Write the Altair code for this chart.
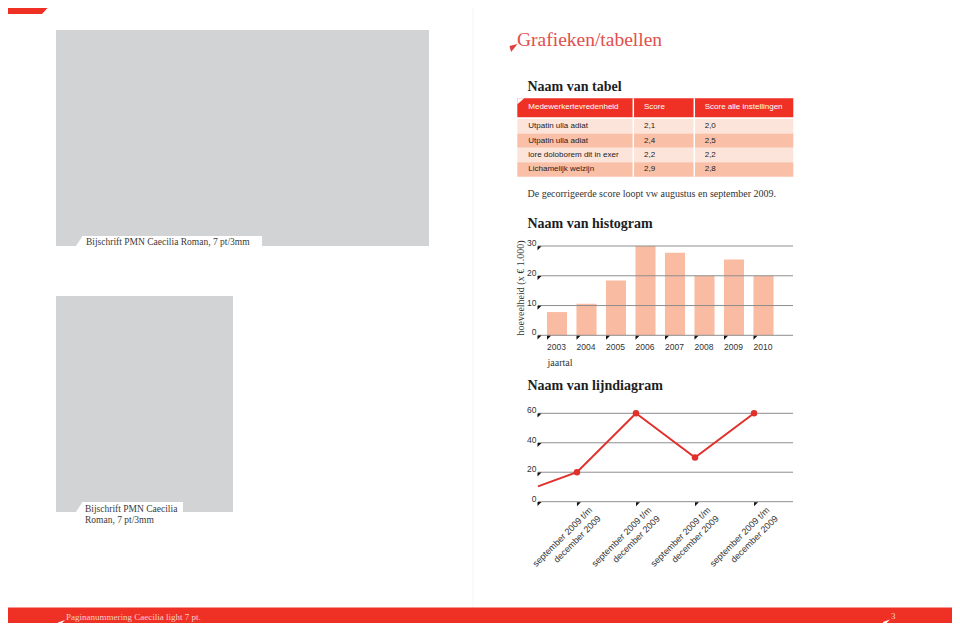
import altair as alt
import pandas as pd

# page coordinates -> chart coordinates (page has an 8px margin)
OX, OY = 8, 8
W, H = 944, 615
def X(v): return v - OX
def Y(v): return v - OY

SERIF = "Liberation Serif"
SANS = "Liberation Sans"
RED = "#ee3124"
LINE_RED = "#e0302c"
GRAY_BOX = "#d1d3d4"
GRID = "#8e8e8e"
BAR = "#f9bba1"
ROW_LIGHT = "#fde4da"
ROW_DARK = "#f9c0a7"

# ---------------- data ----------------
page_title = "Grafieken/tabellen"
table_title = "Naam van tabel"
table_columns = ["Medewerkertevredenheid", "Score", "Score alle instellingen"]
table_names = ["Utpatin ulla adiat", "Utpatin ulla adiat", "lore doloborem dit in exer", "Lichamelijk welzijn"]
table_score = [2.1, 2.4, 2.2, 2.9]
table_score_all = [2.0, 2.5, 2.2, 2.8]
table_note = "De gecorrigeerde score loopt vw augustus en september 2009."

hist_title = "Naam van histogram"
hist_years = ["2003", "2004", "2005", "2006", "2007", "2008", "2009", "2010"]
hist_values = [7.8, 10.6, 18.4, 30.0, 27.7, 20.0, 25.5, 20.0]
hist_ticks = [0, 10, 20, 30]
hist_y_title = "hoeveelheid (x € 1.000)"
hist_x_title = "jaartal"

line_title = "Naam van lijndiagram"
line_categories = [1, 2, 3, 4]
line_labels = ["september 2009 t/m\ndecember 2009"] * 4
line_values = [20, 60, 30, 60]
line_domain = [0.34, 4.66]
line_entry_value = 10.4  # value where the line enters at the left edge
line_ticks = [0, 20, 40, 60]

caption_1 = "Bijschrift PMN Caecilia Roman, 7 pt/3mm"
caption_2 = ["Bijschrift PMN Caecilia", "Roman, 7 pt/3mm"]
footer_text = "Paginanummering Caecilia light 7 pt."
page_number = "3"

# ---------------- helpers (decoration) ----------------
ONE = pd.DataFrame({"k": [0]})
TRI = "M-1,-1L1,-1L-1,1Z"


def box(x1, y1, x2, y2, color):
    return alt.Chart(ONE).mark_rect(color=color).encode(
        x=alt.value(X(x1)), x2=alt.value(X(x2)), y=alt.value(Y(y1)), y2=alt.value(Y(y2)))


def label(text, x, y, size, color, font=SERIF, weight="normal", align="left",
          baseline="middle", angle=0):
    return alt.Chart(pd.DataFrame({"t": [text]})).mark_text(
        align=align, baseline=baseline, font=font, fontSize=size, fontWeight=weight,
        color=color, angle=angle
    ).encode(x=alt.value(X(x)), y=alt.value(Y(y)), text="t:N")


def tri(x, y, side, color, shape=TRI):
    return alt.Chart(ONE).mark_point(
        shape=shape, filled=True, size=side * side, color=color, opacity=1, strokeWidth=0
    ).encode(x=alt.value(X(x)), y=alt.value(Y(y)))


def vrule(x, y1, y2, color, w):
    return alt.Chart(ONE).mark_rule(color=color, strokeWidth=w).encode(
        x=alt.value(X(x)), y=alt.value(Y(y1)), y2=alt.value(Y(y2)))


deco_back = [
    box(0, 0, 42, 14, RED),
    tri(49, 7, 14, RED, "M-1,-1L0.857,-1L-1,1Z"),
    vrule(473, 0, 607, "#f4f4f4", 1),
    box(56, 30, 429, 246, GRAY_BOX),
    box(82, 236, 262, 247, "white"),
    tri(77, 241.5, 11, "white", "M-0.3,1L1,-1L1,1Z"),
    label(caption_1, 86, 241.7, 9.5, "#3a3a3a"),
    box(56, 296, 233, 512, GRAY_BOX),
    box(82, 502, 183, 513, "white"),
    tri(77, 507.5, 11, "white", "M-0.3,1L1,-1L1,1Z"),
    label(caption_2[0], 85, 509.3, 9.5, "#3a3a3a"),
    label(caption_2[1], 85, 519.6, 9.5, "#3a3a3a"),
    # page title
    tri(513.5, 48, 8, "#e0403a", "M-1,-0.5L1,-1L-0.6,1Z"),
    label(page_title, 517, 45.7, 19.5, "#e2504c", baseline="alphabetic"),
    label(table_title, 527.5, 90.5, 14, "#1e1e1e", weight="bold", baseline="alphabetic"),
    # table header
    box(517.3, 98.3, 793.3, 117.3, RED),
    tri(520.8, 101.8, 7, "white", "M-1,-1L1,-1L-1,0.714Z"),
]
for name, xpos in zip(table_columns, [528.3, 644, 704.7]):
    deco_back.append(label(name, xpos, 106.5, 8, "white", font=SANS))

# ---------------- table ----------------
tab_df = pd.DataFrame({"row": list(range(len(table_names))), "name": table_names,
                       "score": table_score, "all": table_score_all})
ty = alt.Y("row:O", scale=alt.Scale(type="band", range=[Y(119), Y(176.7)],
                                      paddingInner=0, paddingOuter=0), axis=None)
tbase = alt.Chart(tab_df).transform_calculate(
    s1="replace(format(datum.score, '.1f'), '.', ',')",
    s2="replace(format(datum.all, '.1f'), '.', ',')")
table_rows = tbase.mark_rect().encode(
    y=ty, x=alt.value(X(517.3)), x2=alt.value(X(793.3)),
    color=alt.condition("datum.row % 2 == 0", alt.value(ROW_LIGHT), alt.value(ROW_DARK)))
ttext = dict(align="left", baseline="middle", font=SANS, fontSize=8, color="#222222")
table_group = alt.layer(
    table_rows,
    tbase.mark_text(**ttext).encode(y=ty, x=alt.value(X(528.3)), text="name:N"),
    tbase.mark_text(**ttext).encode(y=ty, x=alt.value(X(644)), text="s1:N"),
    tbase.mark_text(**ttext).encode(y=ty, x=alt.value(X(704.7)), text="s2:N"),
)

deco_mid = [
    vrule(633.3, 98.3, 176.7, "white", 1.5),
    vrule(694.3, 98.3, 176.7, "white", 1.5),
    label(table_note, 527.5, 197, 10, "#333333", baseline="alphabetic"),
    label(hist_title, 527.5, 228.3, 14, "#1e1e1e", weight="bold", baseline="alphabetic"),
    label(hist_y_title, 521, 288, 10, "#333333", align="center", angle=270),
    label(hist_x_title, 547.5, 362.5, 10, "#333333"),
    label(line_title, 527.5, 389.5, 14, "#1e1e1e", weight="bold", baseline="alphabetic"),
]

# ---------------- histogram ----------------
hist_df = pd.DataFrame({"year": hist_years, "value": hist_values})
htick_df = pd.DataFrame({"tick": hist_ticks})
hx_scale = alt.Scale(type="band", domain=hist_years, range=[X(542.25), X(778.25)],
                     paddingInner=0.32, paddingOuter=0.16)
hy_scale = alt.Scale(domain=[0, 30], range=[Y(335.3), Y(246)], nice=False, zero=True)
hx = alt.X("year:N", scale=hx_scale, axis=None)
hx0 = alt.X("year:N", scale=hx_scale, axis=None, bandPosition=0)
hy_tick = alt.Y("tick:Q", scale=hy_scale, axis=None)

marker = dict(shape=TRI, filled=True, size=16, color="#111111", opacity=1, strokeWidth=0)
hist_group = alt.layer(
    alt.Chart(hist_df).mark_bar(color=BAR).encode(
        x=hx, y=alt.Y("value:Q", scale=hy_scale, axis=None)),
    alt.Chart(htick_df).mark_rule(color=GRID, strokeWidth=1).encode(
        y=hy_tick, x=alt.value(X(538)), x2=alt.value(X(793))),
    alt.Chart(htick_df).mark_text(align="right", baseline="middle", dy=-3, font=SANS,
                                  fontSize=8.5, color="#333333").encode(
        y=hy_tick, x=alt.value(X(536.5)), text="tick:Q"),
    alt.Chart(htick_df).mark_point(yOffset=2.2, **marker).encode(
        y=hy_tick, x=alt.value(X(539.5))),
    alt.Chart(hist_df).mark_point(xOffset=2, yOffset=2.4, **marker).encode(
        x=hx0, y=alt.datum(0)),
    alt.Chart(hist_df).mark_text(align="left", baseline="middle", dy=12, font=SANS,
                                 fontSize=8.5, color="#333333").encode(
        x=hx0, y=alt.datum(0), text="year:N"),
)

# ---------------- line chart ----------------
line_df = pd.DataFrame({"pos": [line_domain[0]] + line_categories,
                        "value": [line_entry_value] + line_values})
cat_df = pd.DataFrame({"pos": line_categories, "value": line_values, "label": line_labels})
ltick_df = pd.DataFrame({"tick": line_ticks})
lx_scale = alt.Scale(domain=line_domain, range=[X(538), X(793)], nice=False, zero=False)
ly_scale = alt.Scale(domain=[0, 60], range=[Y(501.7), Y(413.3)], nice=False, zero=True)
lx = alt.X("pos:Q", scale=lx_scale, axis=None)
ly = alt.Y("value:Q", scale=ly_scale, axis=None)
ly_tick = alt.Y("tick:Q", scale=ly_scale, axis=None)

line_group = alt.layer(
    alt.Chart(ltick_df).mark_rule(color=GRID, strokeWidth=1).encode(
        y=ly_tick, x=alt.value(X(538)), x2=alt.value(X(793))),
    alt.Chart(line_df).mark_line(color=LINE_RED, strokeWidth=2).encode(x=lx, y=ly),
    alt.Chart(cat_df).mark_circle(color=LINE_RED, size=42, opacity=1).encode(x=lx, y=ly),
    alt.Chart(ltick_df).mark_text(align="right", baseline="middle", dy=-3, font=SANS,
                                  fontSize=8.5, color="#333333").encode(
        y=ly_tick, x=alt.value(X(536.5)), text="tick:Q"),
    alt.Chart(ltick_df).mark_point(yOffset=2.2, **marker).encode(
        y=ly_tick, x=alt.value(X(539.5))),
    alt.Chart(cat_df).mark_point(xOffset=2, yOffset=2.6, **marker).encode(
        x=lx, y=alt.datum(0)),
    alt.Chart(cat_df).mark_text(align="right", baseline="top", angle=315, lineBreak="\n",
                                lineHeight=12, font=SANS, fontSize=9, color="#333333",
                                xOffset=11, yOffset=4).encode(
        x=lx, y=alt.datum(0), text="label:N"),
)

# ---------------- footer ----------------
deco_front = [
    box(0, 607.5, 960, 631, RED),
    tri(61.5, 623.5, 7, "white", "M-1,-0.3L1,-1L-1,1Z"),
    label(footer_text, 66, 617, 9, "#f9cfc8"),
    tri(886.5, 623, 7, "white", "M-1,-0.3L1,-1L-1,1Z"),
    label(page_number, 891, 615.5, 9, "#f9cfc8"),
]

chart = alt.layer(
    *deco_back, table_group, *deco_mid, hist_group, line_group, *deco_front
).resolve_scale(x="independent", y="independent").properties(
    width=W, height=H, autosize=alt.AutoSizeParams(type="none"), padding=0,
    background="white"
).configure_view(stroke=None)

chart.save("out.html", embed_options={"renderer": "svg", "actions": False})
